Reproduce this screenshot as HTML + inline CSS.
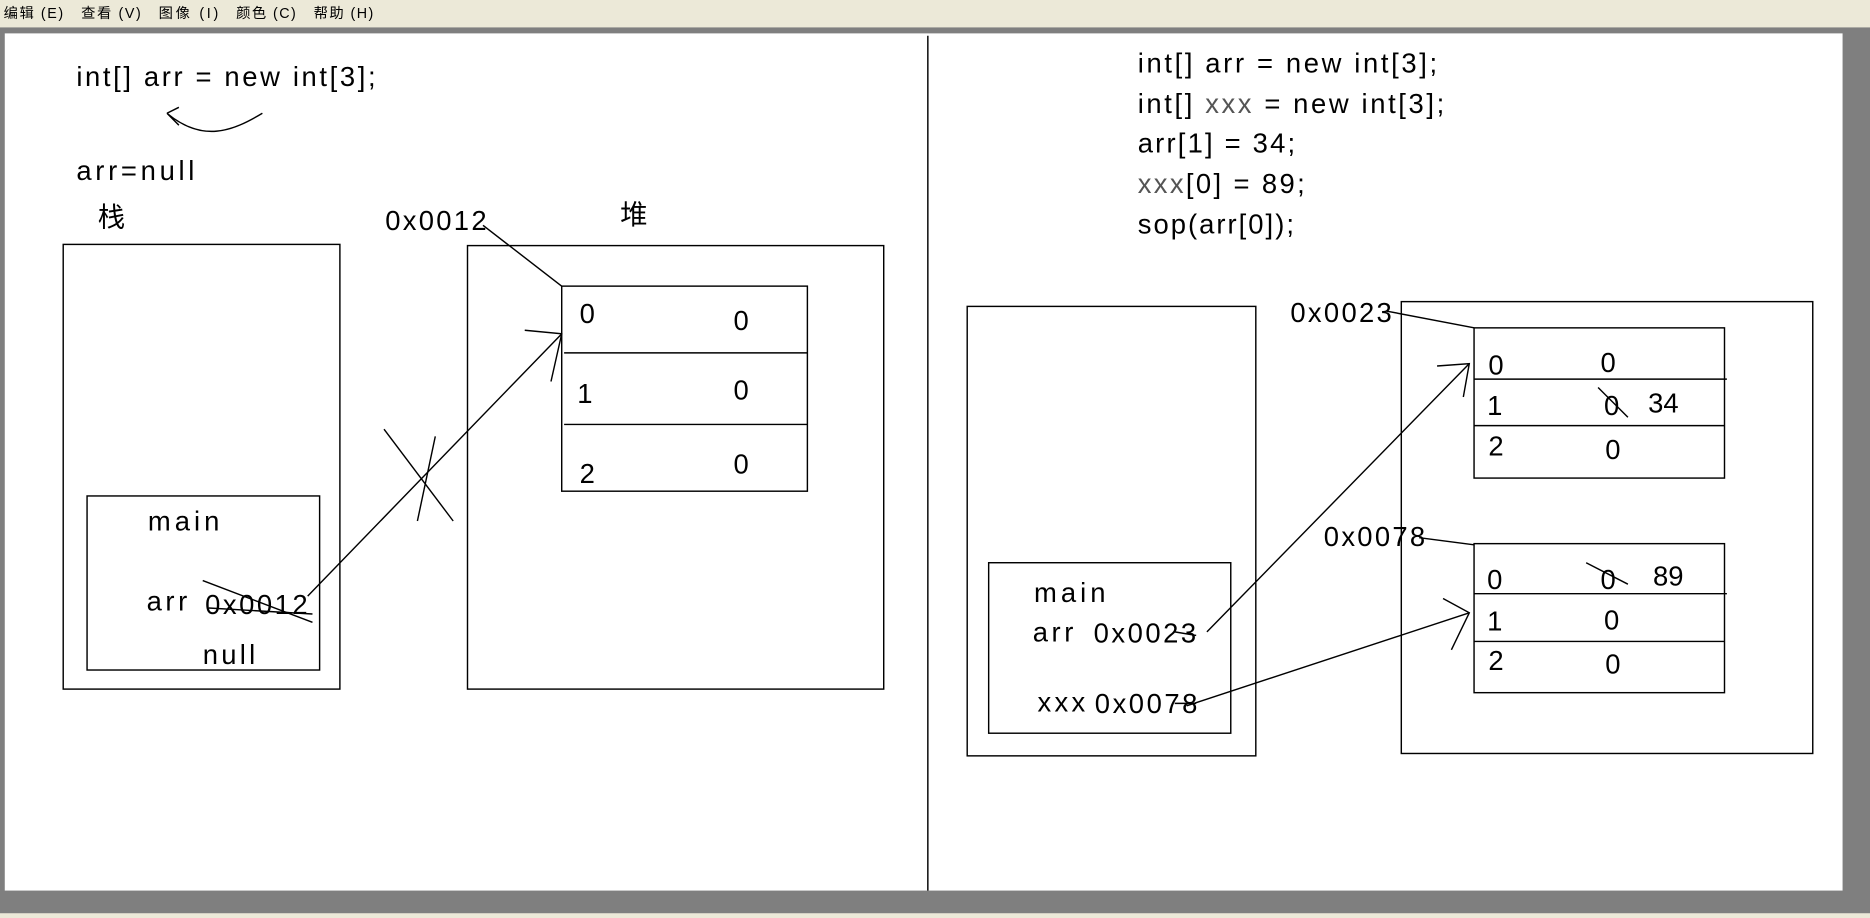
<!DOCTYPE html>
<html><head><meta charset="utf-8"><style>
html,body{margin:0;padding:0;width:1870px;height:918px;overflow:hidden;background:#ece9d8}
svg{display:block}
text{font-family:"Liberation Sans","Noto Sans CJK SC",sans-serif;fill:#000}
</style></head><body>
<svg width="1870" height="918" viewBox="0 0 1568 770" preserveAspectRatio="none">
<rect x="0" y="0" width="1568" height="770" fill="#ece9d8"/>
<g font-size="12">
<text x="3" y="15" textLength="50">编辑 (E)</text>
<text x="68" y="15" textLength="50">查看 (V)</text>
<text x="133" y="15" textLength="50">图像 (I)</text>
<text x="198" y="15" textLength="50">颜色 (C)</text>
<text x="263" y="15" textLength="50">帮助 (H)</text>
</g>
<rect x="0" y="23" width="1568" height="743" fill="#7f7f7f"/>
<rect x="4" y="28" width="1541" height="719" fill="#fff"/>
<g stroke="#000" stroke-width="1.2" fill="none">
<line x1="778" y1="30" x2="778" y2="747"/>
<path d="M220 95 C195 110 170 120 140 95 M140 95 L150 90 M140 95 L150 105"/>
<rect x="53" y="205" width="232" height="373"/>
<rect x="73" y="416" width="195" height="146"/>
<rect x="392" y="206" width="349" height="372"/>
<rect x="471" y="240" width="206" height="172"/>
<line x1="473" y1="296" x2="677" y2="296"/><line x1="473" y1="356" x2="677" y2="356"/>
<line x1="405" y1="189" x2="471" y2="240"/>
<line x1="258" y1="500" x2="471" y2="280"/>
<path d="M440 277 L471 280 L462 320"/>
<line x1="170" y1="487" x2="262" y2="522"/><line x1="175" y1="510" x2="262" y2="515"/>
<line x1="322" y1="360" x2="380" y2="437"/><line x1="365" y1="366" x2="350" y2="437"/>
<rect x="811" y="257" width="242" height="377"/>
<rect x="829" y="472" width="203" height="143"/>
<rect x="1175" y="253" width="345" height="379"/>
<rect x="1236" y="275" width="210" height="126"/>
<line x1="1236" y1="318" x2="1448" y2="318"/><line x1="1236" y1="357" x2="1446" y2="357"/>
<rect x="1236" y="456" width="210" height="125"/>
<line x1="1236" y1="498" x2="1448" y2="498"/><line x1="1236" y1="538" x2="1446" y2="538"/>
<line x1="1163" y1="261" x2="1236" y2="275"/><line x1="1190" y1="451" x2="1236" y2="457"/>
<line x1="1012" y1="530" x2="1232" y2="305"/><path d="M1205 307 L1232 305 L1227 333"/>
<line x1="995" y1="592" x2="1232" y2="514"/><path d="M1210 502 L1232 514 L1217 545"/>
<line x1="1340" y1="325" x2="1365" y2="350"/><line x1="1330" y1="472" x2="1365" y2="490"/>
<line x1="985" y1="530" x2="1003" y2="533"/><line x1="985" y1="590" x2="1003" y2="590"/>
</g>
<g font-size="23">
<text x="64" y="72" textLength="251">int[] arr = new int[3];</text>
<text x="64" y="151" textLength="99">arr=null</text>
<text x="82" y="190">栈</text>
<text x="323" y="193" textLength="85">0x0012</text>
<text x="520" y="188">堆</text>
<text x="486" y="271">0</text><text x="615" y="277">0</text>
<text x="484" y="338">1</text><text x="615" y="335">0</text>
<text x="486" y="405">2</text><text x="615" y="397">0</text>
<text x="124" y="445" textLength="60">main</text>
<text x="123" y="512" textLength="34">arr</text>
<text x="172" y="515" textLength="86">0x0012</text>
<text x="170" y="557" textLength="44">null</text>
<g>
<text x="954" y="61" textLength="251">int[] arr = new int[3];</text>
<text x="954" y="95" textLength="257">int[] <tspan fill="#555">xxx</tspan> = new int[3];</text>
<text x="954" y="128" textLength="132">arr[1] = 34;</text>
<text x="954" y="162" textLength="140"><tspan fill="#555">xxx</tspan>[0] = 89;</text>
<text x="954" y="196" textLength="131">sop(arr[0]);</text>
</g>
<text x="1082" y="270" textLength="85">0x0023</text>
<text x="1110" y="458" textLength="85">0x0078</text>
<text x="1248" y="314">0</text><text x="1342" y="312">0</text>
<text x="1247" y="348">1</text><text x="1345" y="348">0</text><text x="1382" y="346">34</text>
<text x="1248" y="382">2</text><text x="1346" y="385">0</text>
<text x="1247" y="494">0</text><text x="1342" y="494">0</text><text x="1386" y="491">89</text>
<text x="1247" y="529">1</text><text x="1345" y="528">0</text>
<text x="1248" y="562">2</text><text x="1346" y="565">0</text>
<text x="867" y="505" textLength="60">main</text>
<text x="866" y="538" textLength="34">arr</text><text x="917" y="539" textLength="86">0x0023</text>
<text x="870" y="597" textLength="40" fill="#555">xxx</text><text x="918" y="598" textLength="86">0x0078</text>
</g>
</svg>
</body></html>
